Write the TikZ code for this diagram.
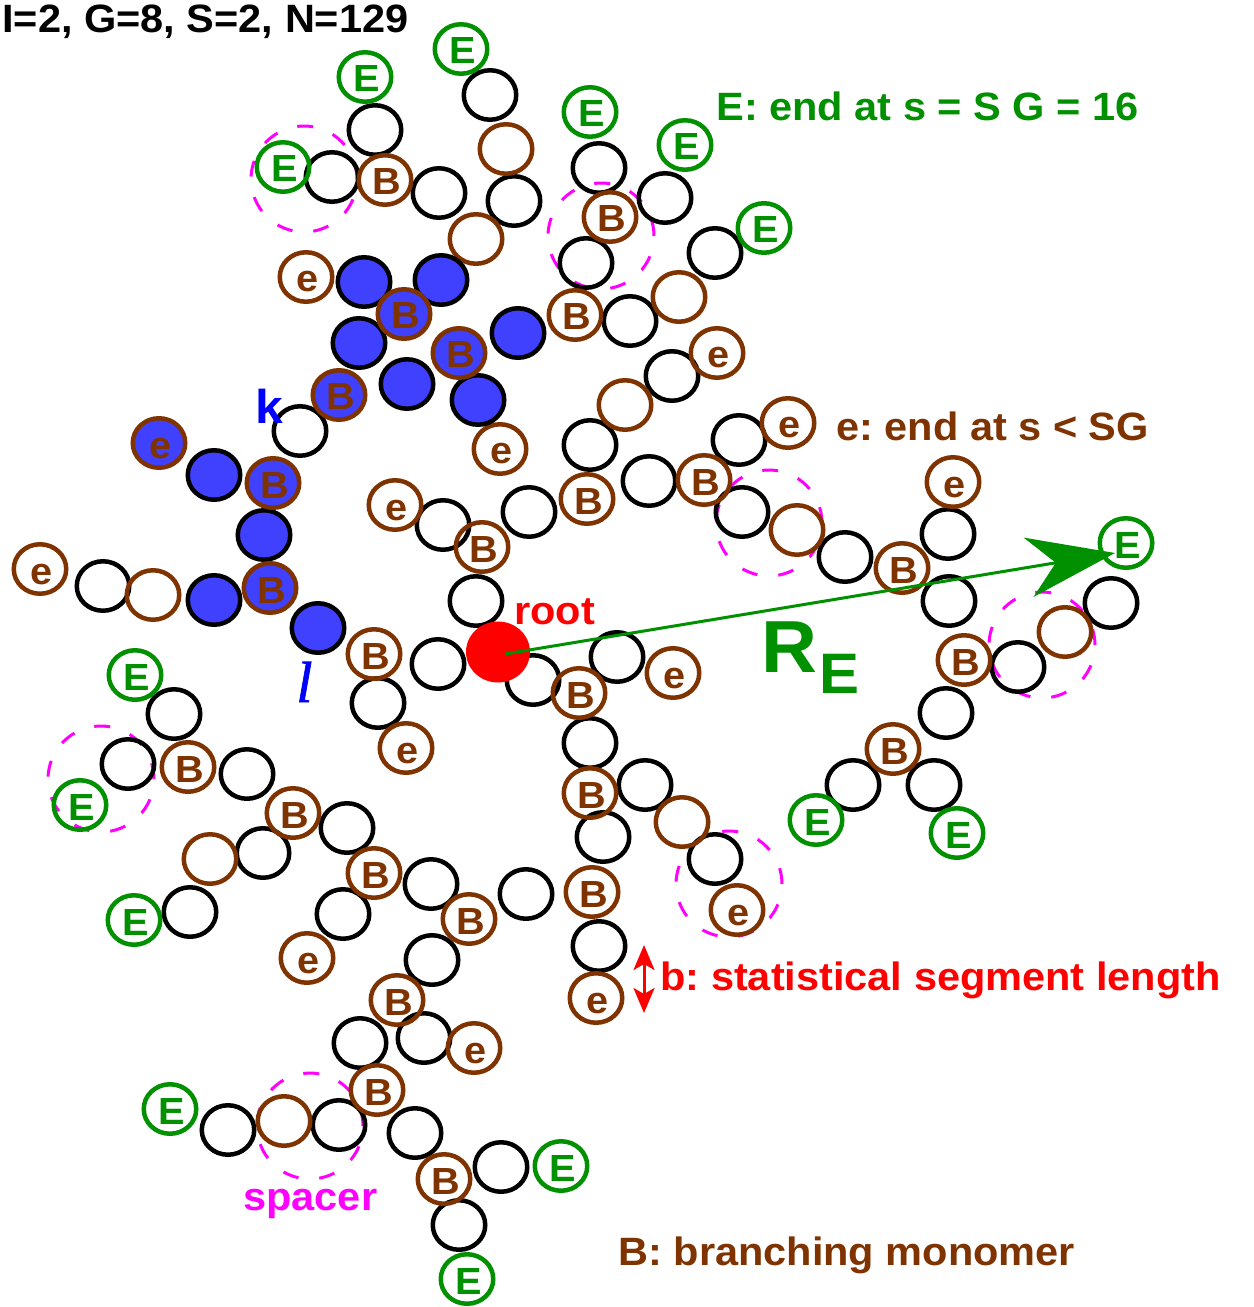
\documentclass[tikz,border=0pt]{standalone}
\usepackage{fontspec}
\setmainfont[FakeStretch=1.05]{Liberation Sans}
\newfontfamily\serifit[ItalicFeatures={FakeBold=1.2}]{Liberation Serif}
\usetikzlibrary{arrows.meta,shapes.geometric}

\definecolor{brn}{RGB}{127,51,0}
\definecolor{grn}{RGB}{0,144,0}
\definecolor{blu}{RGB}{64,64,255}
\definecolor{mag}{RGB}{255,0,255}
\definecolor{rd}{RGB}{255,0,0}
\definecolor{bl}{RGB}{0,0,255}

\tikzset{
  bead/.style={ellipse, draw=black, line width=0.09cm, minimum width=1.05cm, minimum height=0.99cm, inner sep=0pt,
    text height=0.6cm, text depth=0pt, execute at begin node=\kern 1.6pt,
    font=\fontsize{21.5}{24}\selectfont\bfseries},
  mono/.style={bead},
  brown/.style={bead, draw=brn, text=brn},
  endbig/.style={bead, draw=grn, text=grn},
  inner/.style={fill=blu},
  spacerring/.style={draw=mag, line width=0.06cm, dash pattern=on 0.32cm off 0.42cm},
  label/.style={anchor=base west, inner sep=0pt, font=\fontsize{22.5}{26}\selectfont\bfseries}
}

\begin{document}
\frenchspacing
\begin{tikzpicture}[x=0.02cm,y=-0.02cm]
  \useasboundingbox (0,0) rectangle (1253,1307);

  % spacer rings
  \draw [spacerring] (304,179) circle (1.06cm);
  \draw [spacerring] (601,236) circle (1.06cm);
  \draw [spacerring] (769,523) circle (1.06cm);
  \draw [spacerring] (1042,645) circle (1.06cm);
  \draw [spacerring] (101,779) circle (1.06cm);
  \draw [spacerring] (729,884) circle (1.06cm);
  \draw [spacerring] (310,1126) circle (1.06cm);

  % plain monomers
  \node [mono] (m1) at (490,95) {};
  \node [mono] (m2) at (375,130) {};
  \node [mono] (m3) at (332,177) {};
  \node [mono] (m4) at (439,193) {};
  \node [mono] (m5) at (514,201) {};
  \node [mono] (m6) at (599,168) {};
  \node [mono] (m7) at (665,198) {};
  \node [mono] (m8) at (715,253) {};
  \node [mono] (m9) at (586,263) {};
  \node [mono] (m10) at (630,321) {};
  \node [mono] (m11) at (672,376) {};
  \node [mono] (m12) at (590,445) {};
  \node [mono] (m13) at (739,440) {};
  \node [mono] (m14) at (649,481) {};
  \node [mono] (m15) at (529,512) {};
  \node [mono] (m16) at (443,525) {};
  \node [mono] (m17) at (742,512) {};
  \node [mono] (m18) at (845,557) {};
  \node [mono] (m19) at (948,534) {};
  \node [mono] (m20) at (949,601) {};
  \node [mono] (m21) at (1111,603) {};
  \node [mono] (m22) at (1018,667) {};
  \node [mono] (m23) at (946,713) {};
  \node [mono] (m24) at (853,785) {};
  \node [mono] (m25) at (934,785) {};
  \node [mono] (m26) at (476,601) {};
  \node [mono] (m27) at (438,664) {};
  \node [mono] (m28) at (533,680) {};
  \node [mono] (m29) at (617,657) {};
  \node [mono] (m30) at (590,743) {};
  \node [mono] (m31) at (645,785) {};
  \node [mono] (m32) at (603,837) {};
  \node [mono] (m33) at (715,859) {};
  \node [mono] (m34) at (599,946) {};
  \node [mono] (m35) at (378,703) {};
  \node [mono] (m36) at (174,714) {};
  \node [mono] (m37) at (128,764) {};
  \node [mono] (m38) at (247,774) {};
  \node [mono] (m39) at (347,828) {};
  \node [mono] (m40) at (263,853) {};
  \node [mono] (m41) at (190,912) {};
  \node [mono] (m42) at (431,884) {};
  \node [mono] (m43) at (343,914) {};
  \node [mono] (m44) at (526,894) {};
  \node [mono] (m45) at (432,960) {};
  \node [mono] (m46) at (360,1043) {};
  \node [mono] (m47) at (424,1038) {};
  \node [mono] (m48) at (228,1130) {};
  \node [mono] (m49) at (339,1125) {};
  \node [mono] (m50) at (415,1133) {};
  \node [mono] (m51) at (501,1167) {};
  \node [mono] (m52) at (459,1225) {};
  \node [mono] (m53) at (300,431) {};
  \node [mono] (m54) at (103,586) {};

  % spacer monomers
  \node [brown] (s1) at (506,149) {};
  \node [brown] (s2) at (476,239) {};
  \node [brown] (s3) at (679,297) {};
  \node [brown] (s4) at (625,405) {};
  \node [brown] (s5) at (797,530) {};
  \node [brown] (s6) at (1065,632) {};
  \node [brown] (s7) at (153,595) {};
  \node [brown] (s8) at (682,822) {};
  \node [brown] (s9) at (210,859) {};
  \node [brown] (s10) at (284,1121) {};

  % branching monomers
  \node [brown] (b1) at (385,180) {B};
  \node [brown] (b2) at (610,217) {B};
  \node [brown] (b3) at (575,315) {B};
  \node [brown] (b4) at (587,499) {B};
  \node [brown] (b5) at (704,480) {B};
  \node [brown] (b6) at (482,547) {B};
  \node [brown] (b7) at (902,568) {B};
  \node [brown] (b8) at (964,660) {B};
  \node [brown] (b9) at (893,749) {B};
  \node [brown] (b10) at (374,654) {B};
  \node [brown] (b11) at (579,693) {B};
  \node [brown] (b12) at (590,793) {B};
  \node [brown] (b13) at (592,892) {B};
  \node [brown] (b14) at (188,767) {B};
  \node [brown] (b15) at (293,813) {B};
  \node [brown] (b16) at (374,873) {B};
  \node [brown] (b17) at (469,919) {B};
  \node [brown] (b18) at (397,1000) {B};
  \node [brown] (b19) at (377,1090) {B};
  \node [brown] (b20) at (444,1179) {B};

  % short ends
  \node [brown] (e1) at (306,277) {e};
  \node [brown] (e2) at (717,353) {e};
  \node [brown] (e3) at (788,423) {e};
  \node [brown] (e4) at (395,505) {e};
  \node [brown] (e5) at (500,449) {e};
  \node [brown] (e6) at (953,482) {e};
  \node [brown] (e7) at (40,569) {e};
  \node [brown] (e8) at (673,673) {e};
  \node [brown] (e9) at (406,748) {e};
  \node [brown] (e10) at (737,910) {e};
  \node [brown] (e11) at (307,958) {e};
  \node [brown] (e12) at (596,998) {e};
  \node [brown] (e13) at (474,1048) {e};

  % full ends
  \node [endbig] (E1) at (461,49) {E};
  \node [endbig] (E2) at (365,77) {E};
  \node [endbig] (E3) at (283,167) {E};
  \node [endbig] (E4) at (590,112) {E};
  \node [endbig] (E5) at (685,145) {E};
  \node [endbig] (E6) at (764,228) {E};
  \node [endbig] (E7) at (1126,543) {E};
  \node [endbig] (E8) at (135,675) {E};
  \node [endbig] (E9) at (80,805) {E};
  \node [endbig] (E10) at (134,920) {E};
  \node [endbig] (E11) at (816,820) {E};
  \node [endbig] (E12) at (957,833) {E};
  \node [endbig] (E13) at (170,1109) {E};
  \node [endbig] (E14) at (561,1166) {E};
  \node [endbig] (E15) at (467,1279) {E};

  % the marked subtree
  \node [mono, inner] (f1) at (364,282) {};
  \node [mono, inner] (f2) at (441,280) {};
  \node [mono, inner] (f3) at (359,343) {};
  \node [mono, inner] (f4) at (407,384) {};
  \node [mono, inner] (f5) at (478,400) {};
  \node [mono, inner] (f6) at (518,333) {};
  \node [mono, inner] (f7) at (214,475) {};
  \node [mono, inner] (f8) at (264,535) {};
  \node [mono, inner] (f9) at (214,600) {};
  \node [mono, inner] (f10) at (318,628) {};
  \node [brown, inner] (fb1) at (404,314) {B};
  \node [brown, inner] (fb2) at (459,353) {B};
  \node [brown, inner] (fb3) at (339,395) {B};
  \node [brown, inner] (fb4) at (273,483) {B};
  \node [brown, inner] (fb5) at (270,588) {B};
  \node [brown, inner] (fe1) at (159,443) {e};

  \node [ellipse, fill=rd, minimum width=1.28cm, minimum height=1.22cm, inner sep=0pt] (root) at (498,652) {};

  % texts
  \node [label] (title) at (2,33) {I=2, G=8, S=2, N=129};
  \node [label, text=grn] (legE) at (716,121) {E: end at s = S G = 16};
  \node [label, text=brn] (lege) at (836,440) {e: end at s < SG};
  \node [label, text=brn] (legB) at (618,1265) {B: branching monomer};
  \node [label, text=rd] (legb) at (660,990) {b: statistical segment length};
  \node [label, text=mag] (legs) at (243,1210) {spacer};
  \node [label, text=rd] (rootlab) at (514,624) {root};
  \node [label, text=bl, font=\fontsize{27}{32}\selectfont\bfseries] (klab) at (255,423) {k};
  \node [label, text=bl, font=\fontsize{33}{36}\selectfont\serifit\itshape] (llab) at (296,702) {l};
  \node [label, text=grn, font=\fontsize{42}{50}\selectfont\bfseries] (Rlab) at (761,672) {R};
  \node [label, text=grn, font=\fontsize{32.5}{40}\selectfont\bfseries] (Elab) at (819,693) {E};

  % arrows
  \coordinate (btop) at (644,945);
  \coordinate (bbot) at (644,1013);
  \draw [{Stealth[length=0.5cm,width=0.42cm,inset=0.12cm]}-{Stealth[length=0.5cm,width=0.42cm,inset=0.12cm]}, rd, line width=0.06cm] (btop) -- (bbot);
  \draw [-{Stealth[length=1.75cm,width=1.2cm,inset=0.55cm]}, grn, line width=0.06cm] ([shift={(7,2)}]root.center) -- ([shift={(-11,10)}]E7.center);
\end{tikzpicture}
\end{document}
